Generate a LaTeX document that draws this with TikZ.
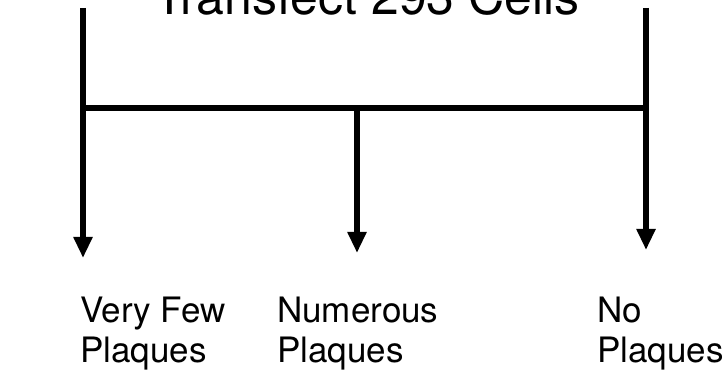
\documentclass[tikz,border=0pt]{standalone}
\usepackage{fontspec}
\setmainfont{TeX Gyre Heros}
\usetikzlibrary{arrows.meta}
\tikzset{
  conn/.style={line width=5.5pt, line cap=butt},
  arr/.style={conn, -{Triangle[width=18pt,length=21pt]}},
  lbl/.style={anchor=north west, inner sep=0pt, align=left, font=\fontsize{35}{40}\selectfont},
}
\begin{document}
\begin{tikzpicture}[x=1pt,y=1pt]
\clip (0,0) rectangle (725,374);
\fill[white] (0,0) rectangle (725,374);
\node[anchor=base, inner sep=0pt, font=\fontsize{50}{58}\selectfont] (title) at (367,359) {Transfect 293 Cells};
\coordinate (topL) at (83,366);
\coordinate (topR) at (646,366);
\coordinate (jL) at (83,266);
\coordinate (jR) at (646,266);
\coordinate (jM) at (357,266);
\coordinate (tipL) at (83,116);
\coordinate (tipM) at (357,121);
\coordinate (tipR) at (646,124);
\draw[arr] (topL) -- (tipL);
\draw[arr] (topR) -- (tipR);
\draw[conn] ([xshift=-2.75pt]jL) -- ([xshift=2.75pt]jR);
\draw[arr] (jM) -- (tipM);
\node[lbl] (l1) at (80,77) {Very Few\\Plaques};
\node[lbl] (l2) at (277,77) {Numerous\\Plaques};
\node[lbl] (l3) at (597,77) {No\\Plaques};
\end{tikzpicture}
\end{document}
